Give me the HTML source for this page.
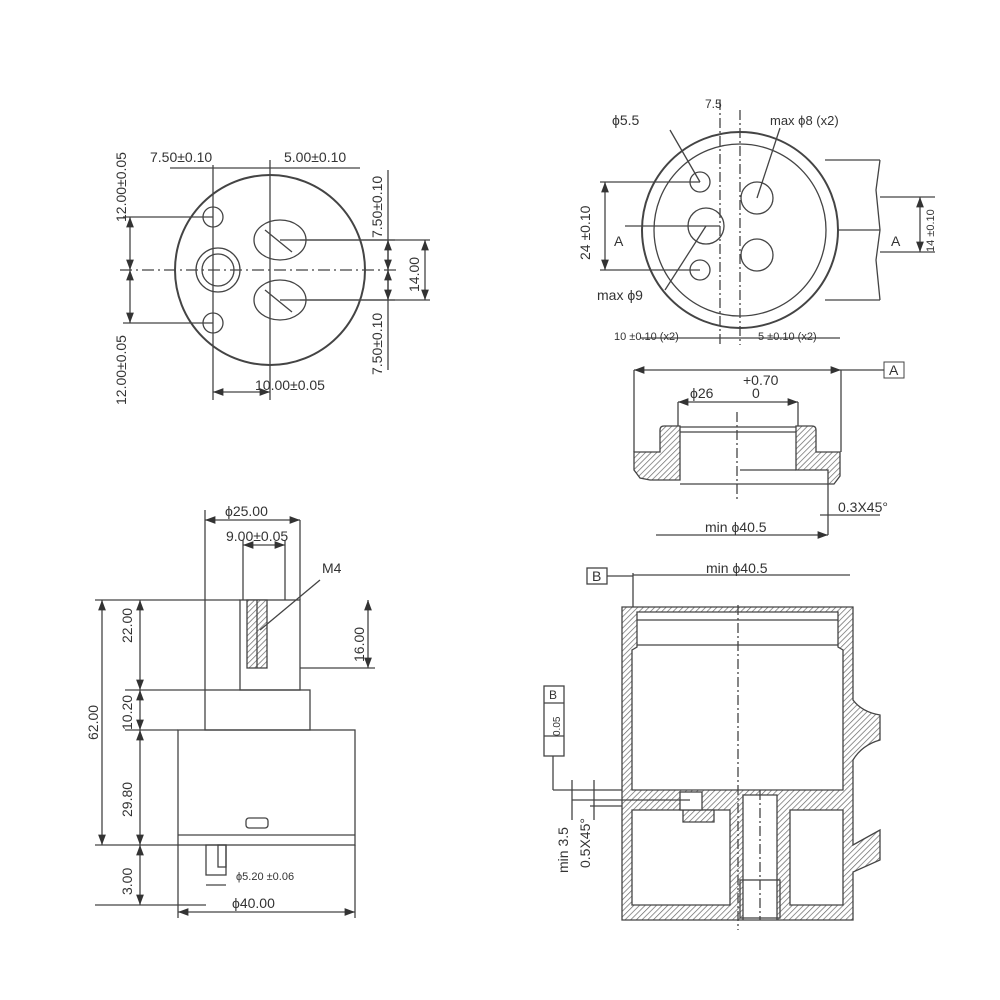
<!DOCTYPE html>
<html><head><style>body{margin:0;background:#fff}svg{display:block}text{font-family:"Liberation Sans",sans-serif;fill:#333}</style></head><body>
<svg width="1000" height="1000" viewBox="0 0 1000 1000" xmlns="http://www.w3.org/2000/svg">
<defs>
<pattern id="h" width="4" height="4" patternUnits="userSpaceOnUse" patternTransform="rotate(45)"><rect width="4" height="4" fill="#fff"/><line x1="0" y1="0" x2="0" y2="4" stroke="#666" stroke-width="1.4"/></pattern>
<marker id="a" markerWidth="8" markerHeight="6" refX="8" refY="3" orient="auto-start-reverse"><path d="M0,0L8,3L0,6z" fill="#333"/></marker>
</defs>
<g stroke="#444" stroke-width="1.3" fill="none">
<!-- Top-left view -->
<circle cx="270" cy="270" r="95" stroke-width="2"/>
<circle cx="213" cy="217" r="10"/><circle cx="213" cy="323" r="10"/>
<circle cx="218" cy="270" r="22"/><circle cx="218" cy="270" r="16"/>
<ellipse cx="280" cy="240" rx="26" ry="20"/><ellipse cx="280" cy="300" rx="26" ry="20"/>
<line x1="265" y1="230" x2="292" y2="252"/><line x1="265" y1="290" x2="292" y2="312"/>
<line x1="120" y1="270" x2="400" y2="270" stroke-dasharray="12 4 2 4"/>
<line x1="123" y1="217" x2="213" y2="217"/><line x1="123" y1="323" x2="213" y2="323"/>
<line x1="130" y1="217" x2="130" y2="270" marker-start="url(#a)" marker-end="url(#a)"/>
<line x1="130" y1="270" x2="130" y2="323" marker-start="url(#a)" marker-end="url(#a)"/>
<line x1="170" y1="168" x2="360" y2="168"/>
<line x1="213" y1="165" x2="213" y2="400"/><line x1="270" y1="160" x2="270" y2="400"/>
<line x1="213" y1="392" x2="270" y2="392" marker-start="url(#a)" marker-end="url(#a)"/>
<line x1="280" y1="240" x2="395" y2="240"/><line x1="280" y1="300" x2="395" y2="300"/>
<line x1="388" y1="170" x2="388" y2="370"/>
<line x1="388" y1="240" x2="388" y2="270" marker-start="url(#a)" marker-end="url(#a)"/>
<line x1="388" y1="270" x2="388" y2="300" marker-start="url(#a)" marker-end="url(#a)"/>
<line x1="300" y1="240" x2="430" y2="240"/><line x1="300" y1="300" x2="430" y2="300"/>
<line x1="425" y1="240" x2="425" y2="300" marker-start="url(#a)" marker-end="url(#a)"/>
<!-- Top-right view -->
<path d="M825,160 L880,160 M825,300 L880,300 M880,160 L876,190 880,230 876,260 880,300" />
<line x1="810" y1="230" x2="880" y2="230"/>
<circle cx="740" cy="230" r="98" fill="#fff" stroke-width="2"/>
<circle cx="740" cy="230" r="86"/>
<circle cx="700" cy="182" r="10"/><circle cx="700" cy="270" r="10"/>
<circle cx="706" cy="226" r="18"/><circle cx="757" cy="198" r="16"/><circle cx="757" cy="255" r="16"/>
<line x1="720" y1="100" x2="720" y2="345" stroke-dasharray="10 3 2 3"/>
<line x1="740" y1="110" x2="740" y2="345" stroke-dasharray="10 3 2 3"/>
<line x1="600" y1="182" x2="700" y2="182"/><line x1="600" y1="270" x2="700" y2="270"/>
<line x1="605" y1="182" x2="605" y2="270" marker-start="url(#a)" marker-end="url(#a)"/>
<line x1="625" y1="226" x2="720" y2="226"/>
<line x1="880" y1="197" x2="935" y2="197"/><line x1="880" y1="252" x2="935" y2="252"/>
<line x1="920" y1="197" x2="920" y2="252" marker-start="url(#a)" marker-end="url(#a)"/>
<line x1="700" y1="182" x2="670" y2="130"/><line x1="706" y1="226" x2="665" y2="290"/><line x1="757" y1="198" x2="780" y2="128"/>
<line x1="640" y1="338" x2="840" y2="338"/>
<!-- Middle right cap section -->
<path fill="url(#h)" fill-rule="evenodd" d="M634,452 L660,452 660,430 Q660,426 664,426 L680,426 680,480 L650,480 L640,478 L634,470Z"/>
<path fill="url(#h)" d="M796,426 L812,426 Q816,426 816,430 L816,452 L840,452 840,476 834,484 828,484 828,470 796,470Z"/>
<line x1="680" y1="432" x2="796" y2="432"/><line x1="680" y1="427" x2="796" y2="427"/>
<line x1="680" y1="484" x2="828" y2="484"/><line x1="740" y1="470" x2="796" y2="470"/>
<line x1="737" y1="412" x2="737" y2="500" stroke-dasharray="10 3 2 3"/>
<line x1="634" y1="370" x2="634" y2="452"/><line x1="841" y1="370" x2="841" y2="452"/>
<line x1="634" y1="370" x2="841" y2="370" marker-start="url(#a)" marker-end="url(#a)"/>
<line x1="841" y1="370" x2="884" y2="370"/>
<line x1="678" y1="402" x2="678" y2="426"/><line x1="798" y1="402" x2="798" y2="426"/>
<line x1="678" y1="402" x2="798" y2="402" marker-start="url(#a)" marker-end="url(#a)"/>
<line x1="828" y1="484" x2="828" y2="535"/>
<line x1="656" y1="535" x2="828" y2="535" marker-end="url(#a)"/>
<line x1="820" y1="515" x2="880" y2="515"/>
<!-- Bottom-right body -->
<path fill="url(#h)" fill-rule="evenodd" d="M622,607 L853,607 853,700 Q862,712 880,715 L880,740 Q862,745 853,760 L853,845 L880,830 880,860 853,872 853,920 L622,920Z M632,650 L637,647 637,612 L838,612 838,647 843,650 843,790 L632,790Z M632,810 L730,810 730,905 L632,905Z M743,795 L777,795 777,920 743,920Z M790,810 L843,810 843,905 L790,905Z"/>
<path fill="url(#h)" d="M683,810 L714,810 714,822 L683,822Z"/>
<rect x="680" y="792" width="22" height="18" fill="#fff"/>
<line x1="637" y1="620" x2="838" y2="620"/><line x1="637" y1="645" x2="838" y2="645"/>
<rect x="740" y="880" width="40" height="38"/>
<line x1="738" y1="605" x2="738" y2="930" stroke-dasharray="10 3 2 3"/>
<line x1="760" y1="790" x2="760" y2="920" stroke-dasharray="10 3 2 3"/>
<line x1="633" y1="573" x2="633" y2="607"/>
<line x1="633" y1="575" x2="850" y2="575"/><rect x="587" y="568" width="20" height="16"/>
<line x1="607" y1="576" x2="633" y2="576"/>
<rect x="544" y="686" width="20" height="70"/><line x1="544" y1="703" x2="564" y2="703"/><line x1="544" y1="736" x2="564" y2="736"/>
<line x1="553" y1="756" x2="553" y2="790"/>
<line x1="553" y1="790" x2="622" y2="790"/><line x1="572" y1="800" x2="690" y2="800"/><line x1="590" y1="806" x2="622" y2="806"/>
<line x1="572" y1="780" x2="572" y2="820"/><line x1="594" y1="780" x2="594" y2="820"/>
<!-- Bottom-left side view -->
<rect x="240" y="600" width="60" height="90"/>
<rect x="247" y="600" width="20" height="68" fill="url(#h)"/><line x1="257" y1="600" x2="257" y2="668"/>
<rect x="205" y="690" width="105" height="40"/>
<rect x="178" y="730" width="177" height="115"/>
<line x1="178" y1="835" x2="355" y2="835"/>
<rect x="246" y="818" width="22" height="10" rx="3"/>
<rect x="206" y="845" width="20" height="30"/><rect x="218" y="845" width="8" height="22"/>
<line x1="205" y1="510" x2="205" y2="690"/><line x1="300" y1="520" x2="300" y2="600"/><line x1="243" y1="540" x2="243" y2="600"/><line x1="285" y1="540" x2="285" y2="600"/>
<line x1="205" y1="520" x2="300" y2="520" marker-start="url(#a)" marker-end="url(#a)"/>
<line x1="243" y1="545" x2="285" y2="545" marker-start="url(#a)" marker-end="url(#a)"/>
<line x1="260" y1="630" x2="320" y2="580"/>
<line x1="95" y1="600" x2="240" y2="600"/><line x1="125" y1="690" x2="205" y2="690"/><line x1="125" y1="730" x2="178" y2="730"/><line x1="95" y1="845" x2="178" y2="845"/><line x1="95" y1="905" x2="206" y2="905"/>
<line x1="102" y1="600" x2="102" y2="845" marker-start="url(#a)" marker-end="url(#a)"/>
<line x1="140" y1="600" x2="140" y2="690" marker-start="url(#a)" marker-end="url(#a)"/>
<line x1="140" y1="690" x2="140" y2="730" marker-start="url(#a)" marker-end="url(#a)"/>
<line x1="140" y1="730" x2="140" y2="845" marker-start="url(#a)" marker-end="url(#a)"/>
<line x1="140" y1="845" x2="140" y2="905" marker-start="url(#a)" marker-end="url(#a)"/>
<line x1="300" y1="668" x2="375" y2="668"/><line x1="368" y1="600" x2="368" y2="668" marker-start="url(#a)" marker-end="url(#a)"/>
<line x1="178" y1="845" x2="178" y2="918"/><line x1="355" y1="845" x2="355" y2="918"/>
<line x1="178" y1="912" x2="355" y2="912" marker-start="url(#a)" marker-end="url(#a)"/>
<line x1="206" y1="885" x2="226" y2="885"/>
</g>
<g font-size="14">
<text x="150" y="162">7.50±0.10</text><text x="284" y="162">5.00±0.10</text>
<text x="255" y="390">10.00±0.05</text>
<text transform="translate(126,222) rotate(-90)">12.00±0.05</text>
<text transform="translate(126,405) rotate(-90)">12.00±0.05</text>
<text transform="translate(382,238) rotate(-90)">7.50±0.10</text>
<text transform="translate(382,375) rotate(-90)">7.50±0.10</text>
<text transform="translate(419,292) rotate(-90)">14.00</text>
<text x="612" y="125">ϕ5.5</text><text x="705" y="108" font-size="12">7.5</text><text x="770" y="125" font-size="13">max ϕ8 (x2)</text>
<text x="597" y="300">max ϕ9</text>
<text transform="translate(590,260) rotate(-90)">24 ±0.10</text>
<text x="614" y="246">A</text><text x="891" y="246">A</text>
<text transform="translate(934,252) rotate(-90)" font-size="11">14 ±0.10</text>
<text x="614" y="340" font-size="11">10 ±0.10 (x2)</text><text x="758" y="340" font-size="11">5 ±0.10 (x2)</text>
<text x="743" y="385">+0.70</text><text x="690" y="398">ϕ26</text><text x="752" y="398">0</text>
<rect x="884" y="362" width="20" height="16" fill="none" stroke="#444"/><text x="889" y="375">A</text>
<text x="838" y="512">0.3X45°</text><text x="705" y="532">min ϕ40.5</text>
<text x="706" y="573">min ϕ40.5</text><text x="592" y="581">B</text>
<text transform="translate(560,736) rotate(-90)" font-size="10">0.05</text><text x="549" y="699" font-size="12">B</text>
<text transform="translate(568,873) rotate(-90)">min 3.5</text>
<text transform="translate(590,868) rotate(-90)">0.5X45°</text>
<text x="225" y="516">ϕ25.00</text><text x="226" y="541">9.00±0.05</text><text x="322" y="573">M4</text>
<text transform="translate(132,643) rotate(-90)">22.00</text>
<text transform="translate(132,730) rotate(-90)">10.20</text>
<text transform="translate(132,817) rotate(-90)">29.80</text>
<text transform="translate(132,895) rotate(-90)">3.00</text>
<text transform="translate(98,740) rotate(-90)">62.00</text>
<text transform="translate(364,662) rotate(-90)">16.00</text>
<text x="236" y="880" font-size="11">ϕ5.20 ±0.06</text><text x="232" y="908">ϕ40.00</text>
</g>
</svg>
</body></html>
